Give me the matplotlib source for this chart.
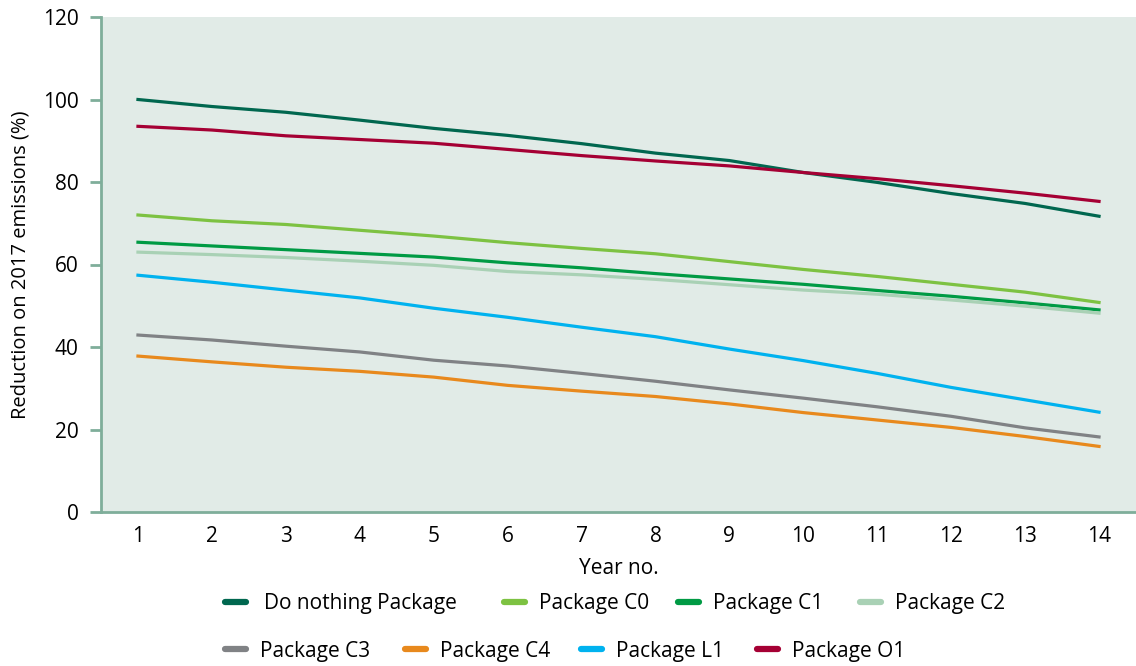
import matplotlib.pyplot as plt
import numpy as np

# data
years = np.arange(1, 15)
series_names = ['Do nothing Package', 'Package C0', 'Package C1', 'Package C2',
                'Package C3', 'Package C4', 'Package L1', 'Package O1']
do_nothing = [100, 98.3, 96.9, 95.0, 93.0, 91.3, 89.3, 87.0, 85.2, 82.3, 79.9, 77.2, 74.8, 71.7]
pkg_c0 = [72.0, 70.6, 69.7, 68.3, 66.9, 65.3, 63.9, 62.6, 60.7, 58.8, 57.1, 55.2, 53.3, 50.8]
pkg_c1 = [65.4, 64.5, 63.6, 62.7, 61.8, 60.4, 59.2, 57.8, 56.5, 55.2, 53.7, 52.3, 50.7, 49.0]
pkg_c2 = [63.0, 62.4, 61.7, 60.8, 59.8, 58.3, 57.5, 56.4, 55.1, 53.8, 52.8, 51.4, 49.9, 48.2]
pkg_c3 = [42.9, 41.7, 40.2, 38.8, 36.8, 35.4, 33.6, 31.7, 29.6, 27.6, 25.5, 23.2, 20.4, 18.2]
pkg_c4 = [37.8, 36.4, 35.1, 34.1, 32.7, 30.7, 29.3, 28.0, 26.2, 24.1, 22.3, 20.5, 18.3, 15.9]
pkg_l1 = [57.4, 55.7, 53.8, 51.9, 49.4, 47.2, 44.8, 42.5, 39.5, 36.7, 33.6, 30.2, 27.2, 24.2]
pkg_o1 = [93.5, 92.6, 91.2, 90.3, 89.4, 87.9, 86.4, 85.1, 83.9, 82.3, 80.8, 79.1, 77.3, 75.3]

colours = ['#00674f', '#7dc242', '#009a44', '#a9d1b5',
           '#808285', '#e8891d', '#00b2ef', '#a50034']

plt.rcParams['font.family'] = ['Open Sans', 'DejaVu Sans']

fig = plt.figure(figsize=(11.36, 6.66), dpi=100)
ax = fig.add_axes([101 / 1136, 1 - 512 / 666, 1 - 101 / 1136, (512 - 17) / 666])
ax.set_facecolor('#e1ebe7')

all_series = [do_nothing, pkg_c0, pkg_c1, pkg_c2, pkg_c3, pkg_c4, pkg_l1, pkg_o1]
for name, vals, col in zip(series_names, all_series, colours):
    ax.plot(years, vals, color=col, lw=2.3, label=name)

ax.set_xlim(0.5, 14.5)
ax.set_ylim(0, 120)
ax.set_xticks(years)
ax.set_yticks(np.arange(0, 121, 20))

spine_col = '#7fae9a'
for s in ['top', 'right']:
    ax.spines[s].set_visible(False)
for s in ['left', 'bottom']:
    ax.spines[s].set_color(spine_col)
    ax.spines[s].set_linewidth(2)
ax.tick_params(axis='y', color=spine_col, width=2, length=8, labelsize=15, pad=8)
ax.tick_params(axis='x', length=0, labelsize=15, pad=10)

ax.set_ylabel('Reduction on 2017 emissions (%)', fontsize=14.5, labelpad=9)
ax.set_xlabel('Year no.', fontsize=15, labelpad=8)

# legend: the reference lays entries out as a flowing two-row list,
# so each entry gets its own small legend at the slot it sits in
slot_x = [222, 501, 675, 857, 222, 402, 578, 754]
slot_y = [604, 604, 604, 604, 651, 651, 651, 651]
for name, col, sx, sy in zip(series_names, colours, slot_x, slot_y):
    h, = ax.plot([], [], color=col, lw=4.5, solid_capstyle='round')
    fig.legend([h], [name], frameon=False, fontsize=15, handlelength=1.0,
               handletextpad=0.7 if sx != 222 or sy != 604 else 0.85,
               borderpad=0, borderaxespad=0, loc='center left',
               bbox_to_anchor=((sx + 3) / 1136, 1 - sy / 666))

fig.savefig('out.png', dpi=100)
